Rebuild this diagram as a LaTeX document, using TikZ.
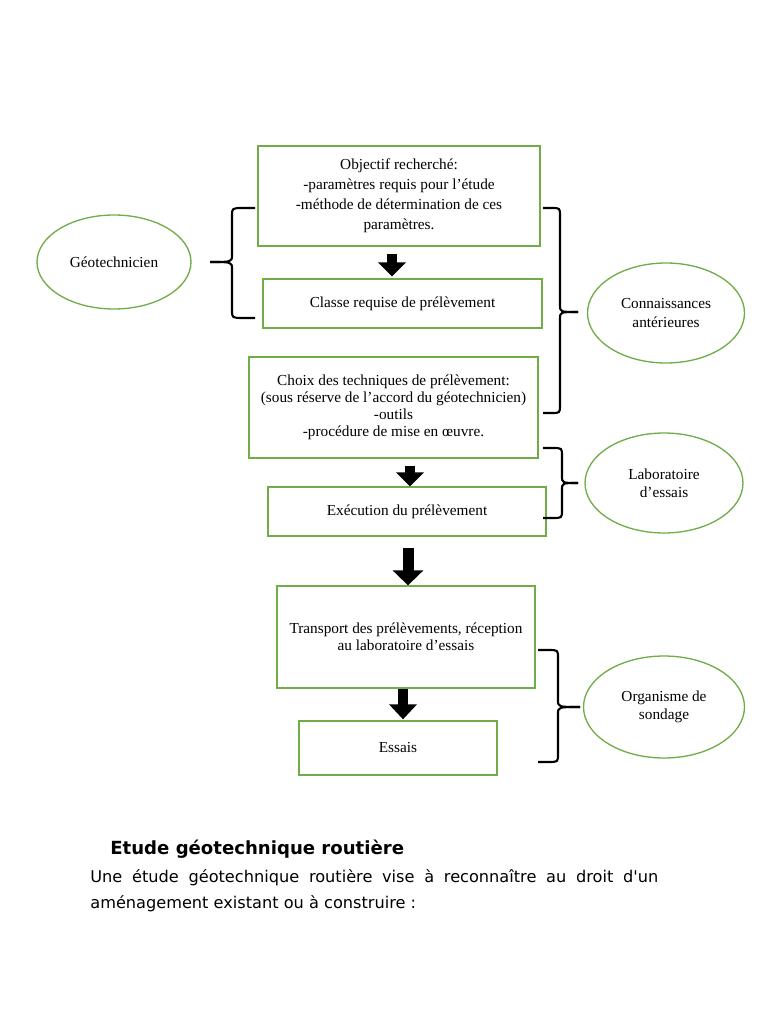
\documentclass[tikz,border=0pt]{standalone}
\usepackage{fontspec}
\setmainfont{Liberation Serif}
\newfontfamily\sansdoc{DejaVu Sans}
\usetikzlibrary{arrows.meta,shapes.geometric}
\definecolor{vertcadre}{RGB}{112,173,71}
\def\accolade(#1:#2:#3)(#4:#5:#6){\draw[line width=1.2pt] (#1,#4) -- ({(#1+#2)/2},#4) .. controls (#2,#4) .. (#2,#4+8) -- (#2,#5-7) .. controls (#2,#5) .. (#3,#5);
	\draw[line width=1.2pt] (#3,#5) .. controls (#2,#5) .. (#2,#5+7) -- (#2,#6-8) .. controls (#2,#6) .. ({(#1+#2)/2},#6) -- (#1,#6);}

\begin{document}
\begin{tikzpicture}[x=0.02cm,y=-0.02cm,
		boite/.style={draw=vertcadre,line width=0.75pt,inner sep=2pt,align=center,font=\fontsize{8.7}{9.7}\selectfont},
		bulle/.style={ellipse,draw=vertcadre,line width=0.75pt,inner sep=0pt,align=center,font=\fontsize{8.7}{10.5}\selectfont},
		fleche/.style={line width=0.2cm,-{Triangle[width=0.54cm,length=0.28cm]}}]
			%%%%% START %%%%%
			\useasboundingbox[fill=white] (0,0) rectangle (768,1024);
			
			\node[boite,minimum width=5.64cm,minimum height=2cm,font=\fontsize{8.7}{11.4}\selectfont] (objectif) at (399,196) {Objectif recherché:\\-paramètres requis pour l’étude\\-méthode de détermination de ces\\paramètres.};
			\node[boite,minimum width=5.58cm,minimum height=0.98cm] (classe) at (402.5,303.5) {Classe requise de prélèvement};
			\node[boite,minimum width=5.78cm,minimum height=2.02cm] (choix) at (393.5,407.5) {Choix des techniques de prélèvement:\\(sous réserve de l’accord du géotechnicien)\\-outils\\-procédure de mise en œuvre.};
			\node[boite,minimum width=5.56cm,minimum height=0.98cm] (execution) at (407,511.5) {Exécution du prélèvement};
			\node[boite,minimum width=5.16cm,minimum height=2.04cm] (transport) at (406,637) {Transport des prélèvements, réception\\au laboratoire d’essais};
			\node[boite,minimum width=3.96cm,minimum height=1.08cm] (essais) at (398,748) {Essais};
			
			\node[bulle,minimum width=3.08cm,minimum height=1.88cm] (geo) at (114,262) {Géotechnicien};
			\node[bulle,minimum width=3.14cm,minimum height=2cm] (connaissances) at (666,313) {Connaissances\\antérieures};
			\node[bulle,minimum width=3.16cm,minimum height=2cm] (labo) at (664,483) {Laboratoire\\d’essais};
			\node[bulle,minimum width=3.22cm,minimum height=2.04cm] (organisme) at (664,707) {Organisme de\\sondage};
			
			\draw[fleche,shorten <=0.14cm,shorten >=0.04cm] (objectif.south -| 392,0) -- (classe.north -| 392,0);
			\draw[fleche,shorten <=0.14cm] (choix.south -| 410,0) -- (execution.north -| 410,0);
			\draw[fleche,line width=0.22cm,shorten <=0.22cm,-{Triangle[width=0.6cm,length=0.3cm]}] (execution.south -| 408,0) -- (transport.north -| 408,0);
			\draw[fleche,shorten >=0.02cm,-{Triangle[width=0.54cm,length=0.3cm]}] (transport.south -| 403,0) -- (essais.north -| 403,0);
			
			\accolade(255:232:210)(208:262:318)
			\accolade(543:560:578)(208:312:413)
			\accolade(543:562:578)(448:483:518)
			\accolade(538:558:580)(650:707:762)
			
			\node[anchor=base west,inner sep=0pt,font=\sansdoc\bfseries\fontsize{10.3}{12}\selectfont] (titre) at (110,854) {Etude géotechnique routière};
			\node[anchor=north west,inner sep=0pt,text width=11.36cm,align=justify,font=\sansdoc\fontsize{9.2}{14.7}\selectfont] (texte) at (90,869) {Une étude géotechnique routière vise à reconnaître au droit d\textquotesingle un\linebreak aménagement existant ou à construire :};
			
			%%%%% END %%%%%
\end{tikzpicture}
\end{document}
